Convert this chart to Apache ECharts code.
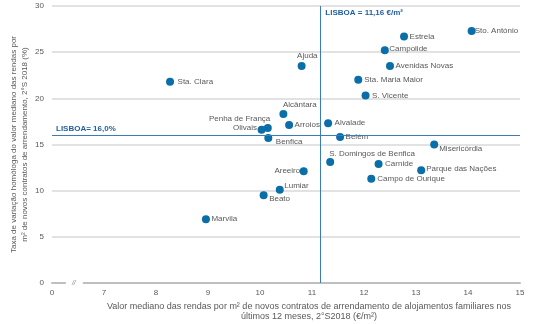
<!DOCTYPE html>
<html>
<head>
<meta charset="utf-8">
<script src="https://cdn.jsdelivr.net/npm/echarts@6/dist/echarts.min.js"></script>
<style>
  html, body { margin: 0; padding: 0; background: #fff; }
  #chart { width: 542px; height: 324px; }
</style>
</head>
<body>
<div id="chart"></div>
<script>
// Freguesias de Lisboa: renda mediana por m² (eixo X) e variação homóloga (eixo Y)
const freguesias = [
  'Sto. António', 'Estrela', 'Campolide', 'Avenidas Novas', 'Sta. Maria Maior',
  'S. Vicente', 'Alvalade', 'Belém', 'Misericórdia', 'S. Domingos de Benfica',
  'Carnide', 'Parque das Nações', 'Campo de Ourique', 'Ajuda', 'Sta. Clara',
  'Alcântara', 'Arroios', 'Penha de França', 'Olivais', 'Benfica',
  'Areeiro', 'Lumiar', 'Beato', 'Marvila'
];
const rendaMediana = [
  14.07, 12.77, 12.40, 12.50, 11.89,
  12.03, 11.31, 11.54, 13.35, 11.35,
  12.28, 13.10, 12.14, 10.80, 8.27,
  10.45, 10.56, 10.15, 10.03, 10.16,
  10.84, 10.38, 10.07, 8.96
];
const variacaoHomologa = [
  27.3, 26.7, 25.2, 23.5, 22.0,
  20.3, 17.3, 15.8, 15.0, 13.1,
  12.9, 12.2, 11.3, 23.5, 21.8,
  18.3, 17.1, 16.8, 16.6, 15.7,
  12.1, 10.1, 9.5, 6.9
];
const lisboaRenda = 11.16;
const lisboaVariacao = 16.0;
const yTicks = [0, 5, 10, 15, 20, 25, 30];
const xTicks = [7, 8, 9, 10, 11, 12, 13, 14, 15];

// Label placement for each freguesia: [side, dx, dy]
const labelPlacement = {
  'Sto. António': ['right', -1, 0],
  'Estrela': ['right', 1.5, 0],
  'Campolide': ['right', 0.5, -2],
  'Avenidas Novas': ['right', 1.5, 0],
  'Sta. Maria Maior': ['right', 2, 0],
  'S. Vicente': ['right', 2.5, 0],
  'Alvalade': ['right', 2.5, 0],
  'Belém': ['right', 1.5, 0],
  'Misericórdia': ['right', 1, 4],
  'S. Domingos de Benfica': ['right', -5, -8],
  'Carnide': ['right', 2.5, 0],
  'Parque das Nações': ['right', 1, -2],
  'Campo de Ourique': ['right', 2, 0],
  'Ajuda': ['right', -8.5, -10],
  'Sta. Clara': ['right', 3.5, 0],
  'Alcântara': ['right', -4.5, -9],
  'Arroios': ['right', 1.5, 0],
  'Penha de França': ['left', 6.5, -9.5],
  'Olivais': ['left', -0.5, -1.5],
  'Benfica': ['right', 3.5, 3.5],
  'Areeiro': ['left', 0.5, 0],
  'Lumiar': ['right', 0.5, -4],
  'Beato': ['right', 1.5, 3.5],
  'Marvila': ['right', 1.5, 0]
};

const FONT = '"Liberation Sans", Arial, sans-serif';
const TEXT_GREY = '#595959';
const LINE_BLUE = '#3d7ab8';
const DOT_BLUE = '#0a6ea8';
const X_MIN = 6;

const points = freguesias.map((name, i) => ({
  name: name,
  value: [rendaMediana[i], variacaoHomologa[i]],
  label: { position: labelPlacement[name][0] }
}));

const chart = echarts.init(document.getElementById('chart'), null, { renderer: 'canvas' });

chart.setOption({
  animation: false,
  backgroundColor: '#ffffff',
  textStyle: { fontFamily: FONT },
  grid: { left: 52, right: 22, top: 6, bottom: 41, outerBoundsMode: 'none', containLabel: false },
  xAxis: {
    type: 'value',
    min: X_MIN,
    max: xTicks[xTicks.length - 1],
    interval: 1,
    name: 'Valor mediano das rendas por m² de novos contratos de arrendamento de alojamentos familiares nos\núltimos 12 meses, 2°S2018 (€/m²)',
    nameLocation: 'middle',
    nameGap: 19,
    nameMoveOverlap: false,
    nameTextStyle: {
      color: TEXT_GREY, fontSize: 9, lineHeight: 10, fontFamily: FONT,
      padding: [0, 0, 0, 46]
    },
    axisLine: { show: true, lineStyle: { color: '#bfbfbf', width: 2 } },
    axisTick: { show: false },
    splitLine: { show: false },
    axisLabel: {
      color: TEXT_GREY, fontSize: 8, margin: 6, fontFamily: FONT,
      formatter: v => (v === X_MIN ? '0' : (xTicks.indexOf(v) >= 0 ? String(v) : ''))
    }
  },
  yAxis: {
    type: 'value',
    min: yTicks[0],
    max: yTicks[yTicks.length - 1],
    interval: 5,
    name: 'Taxa de variação homóloga do valor mediano das rendas por\nm² de novos contratos de arrendamento, 2°S 2018 (%)',
    nameLocation: 'middle',
    nameRotate: 90,
    nameGap: 22,
    nameMoveOverlap: false,
    nameTextStyle: { color: TEXT_GREY, fontSize: 8, lineHeight: 11, fontFamily: FONT },
    axisLine: { show: false },
    axisTick: { show: false },
    splitLine: { show: true, lineStyle: { color: '#d9d9d9', width: 1.5 } },
    axisLabel: { color: TEXT_GREY, fontSize: 8, margin: 8, fontFamily: FONT }
  },
  series: [{
    type: 'scatter',
    symbol: 'circle',
    symbolSize: 8,
    itemStyle: { color: DOT_BLUE, opacity: 1 },
    label: {
      show: true,
      formatter: '{b}',
      distance: 0,
      color: TEXT_GREY,
      fontSize: 8,
      fontFamily: FONT
    },
    labelLayout: function (params) {
      const p = labelPlacement[freguesias[params.dataIndex]];
      return { dx: p[1], dy: p[2], hideOverlap: false };
    },
    data: points,
    markLine: {
      silent: true,
      symbol: ['none', 'none'],
      label: { show: false },
      lineStyle: { color: LINE_BLUE, width: 1, type: 'solid' },
      data: [
        { xAxis: lisboaRenda },
        { yAxis: lisboaVariacao }
      ]
    },
    markPoint: {
      silent: true,
      symbol: 'circle',
      symbolSize: 0,
      label: {
        show: true,
        color: '#1f5f9f',
        fontWeight: 'bold',
        fontSize: 8,
        fontFamily: FONT
      },
      data: [
        {
          coord: [lisboaRenda, 30],
          label: {
            position: 'right',
            distance: 0,
            offset: [5, 7],
            formatter: 'LISBOA = ' + lisboaRenda.toFixed(2).replace('.', ',') + ' €/m²'
          }
        },
        {
          coord: [X_MIN, lisboaVariacao],
          label: {
            position: 'right',
            distance: 0,
            offset: [4, -6],
            formatter: 'LISBOA= ' + lisboaVariacao.toFixed(1).replace('.', ',') + '%'
          }
        }
      ]
    }
  }]
});

// Axis break mark between 0 and 7 on the horizontal axis
const breakAt = chart.convertToPixel({ gridIndex: 0 }, [X_MIN + 0.42, 0]);
chart.setOption({
  graphic: [
    {
      type: 'rect',
      shape: { x: breakAt[0] - 8, y: breakAt[1] - 3, width: 17, height: 6 },
      style: { fill: '#ffffff' },
      z: 100
    },
    {
      type: 'text',
      x: breakAt[0],
      y: breakAt[1],
      style: {
        text: '//',
        fill: '#8c8c8c',
        fontSize: 7,
        fontStyle: 'italic',
        fontFamily: FONT,
        align: 'center',
        verticalAlign: 'middle'
      },
      z: 101
    }
  ]
});
</script>
</body>
</html>
